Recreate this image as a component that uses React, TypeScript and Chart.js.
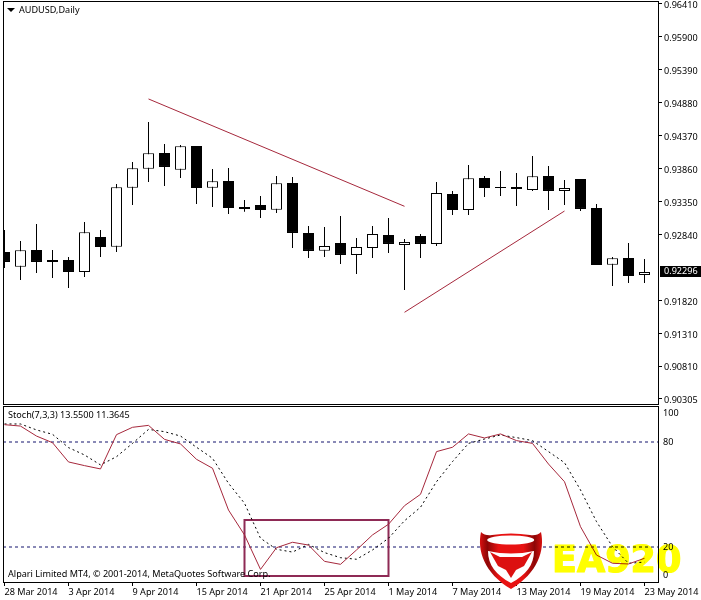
import React, { useEffect, useRef } from "react";
import { Chart, registerables } from "chart.js";

Chart.register(...registerables);

// ---- data ----
const opens = [0.92577,0.9235,0.92608,0.92453,0.92453,0.92268,0.92809,0.92659,0.93571,0.93864,0.94107,0.93849,0.94215,0.93571,0.93674,0.93272,0.93303,0.93231,0.93643,0.92871,0.92597,0.92716,0.92531,0.92639,0.9284,0.92685,0.92824,0.92701,0.93473,0.93226,0.93721,0.93582,0.93582,0.93535,0.93752,0.9352,0.93705,0.93257,0.92381,0.92484,0.92222];
const closes = [0.92423,0.92603,0.92423,0.92423,0.92268,0.92881,0.92654,0.93577,0.93871,0.94102,0.93891,0.94211,0.93566,0.9367,0.93257,0.93242,0.93226,0.93639,0.92871,0.92593,0.9267,0.92531,0.92654,0.92855,0.92701,0.92732,0.92701,0.93489,0.93226,0.93716,0.93566,0.93566,0.93551,0.93747,0.9352,0.93566,0.93242,0.92376,0.9248,0.92206,0.92268];
const highs = [0.92917,0.92747,0.9301,0.92608,0.925,0.93041,0.92917,0.93628,0.93968,0.94586,0.94246,0.94231,0.94215,0.9386,0.93875,0.93381,0.93442,0.93752,0.93736,0.92979,0.92963,0.93133,0.92793,0.92979,0.93102,0.92778,0.92855,0.93659,0.9352,0.93922,0.93752,0.93829,0.93798,0.94061,0.93906,0.9369,0.93705,0.93319,0.925,0.92716,0.92469];
const lows = [0.9233,0.92145,0.92253,0.92175,0.92021,0.92191,0.925,0.92577,0.93303,0.93659,0.93597,0.93721,0.93319,0.93272,0.93164,0.932,0.93102,0.9318,0.92639,0.92484,0.925,0.92392,0.92237,0.92484,0.92562,0.9199,0.92484,0.9267,0.93149,0.93149,0.93427,0.93442,0.93288,0.9352,0.93226,0.93303,0.93211,0.92376,0.92052,0.92098,0.92098];
const stochK = [89.9,89.1,83.4,79.6,68.6,66.5,64.6,84.2,88.4,89.5,81.5,78.9,70.1,65,41.1,26.9,7.2,19.6,22.7,21.1,11.8,10.1,18.3,26.9,33,43.6,50.1,74.5,77,84.6,82.3,84.6,80.8,79.2,67.4,57.3,31.6,15.4,10.7,10.3,13.55];
const stochD = [90.3,90.3,86.9,84.4,76.8,72.6,66.9,71.6,79.2,87.2,85.9,83.4,77,70.7,56.4,45,25,18.7,17.1,21.5,16.8,13.9,13,18.3,25,35,42.7,57.3,68.8,79.2,81.7,84,82.5,80.8,74.5,68.2,52.6,34.5,20.2,10.7,11.36];
const dateLabels = ["28 Mar 2014","3 Apr 2014","9 Apr 2014","15 Apr 2014","21 Apr 2014","25 Apr 2014","1 May 2014","7 May 2014","13 May 2014","19 May 2014","23 May 2014"];
const priceTicks = [0.9641,0.959,0.9539,0.9488,0.9437,0.9386,0.9335,0.9284,0.9182,0.9131,0.9081,0.90305];
const stochTicks = [96.6,80,20,3.5];
const stochTickLabels = ["100","80","20","0"];
const stochLevels = [80,20];
const trendDown = [{ x: 9, y: 0.94942 }, { x: 25, y: 0.93283 }];
const trendUp = [{ x: 25, y: 0.91645 }, { x: 35, y: 0.9321 }];
const boxIdx = [15, 24];
const boxVal = [35.4, 3.4];
const lastPrice = 0.92296;

const FONT = '"Noto Sans", sans-serif';
const FS = 9.1;
const RED = "#a6283c";
const xMin = -0.09375;
const xMax = 40.90625;

const whiteBg = {
  id: "whiteBg",
  beforeDraw(c: any) {
    const g = c.ctx;
    g.save();
    g.fillStyle = "#fff";
    g.fillRect(0, 0, c.width, c.height);
    g.restore();
  },
};

const frame = {
  id: "frame",
  afterDatasetsDraw(c: any) {
    const a = c.chartArea;
    const g = c.ctx;
    g.save();
    g.strokeStyle = "#000";
    g.lineWidth = 1;
    g.strokeRect(a.left + 0.5, a.top + 0.5, a.right - a.left - 1, a.bottom - a.top - 1);
    g.restore();
  },
};

const priceOverlay = {
  id: "priceOverlay",
  afterDraw(c: any) {
    const g = c.ctx;
    g.save();
    g.fillStyle = "#000";
    g.beginPath();
    g.moveTo(7, 8);
    g.lineTo(15, 8);
    g.lineTo(11, 12);
    g.closePath();
    g.fill();
    g.font = `${FS}px ${FONT}`;
    g.textBaseline = "middle";
    g.fillText("AUDUSD,Daily", 19, 10);
    const y = Math.round(c.scales.y.getPixelForValue(lastPrice)) + 1;
    g.fillRect(660, y - 5, 41, 11);
    g.fillStyle = "#fff";
    g.fillText(lastPrice.toFixed(5), 664, y + 0.5);
    g.restore();
  },
};

const stochOverlay = {
  id: "stochOverlay",
  afterDraw(c: any) {
    const g = c.ctx;
    g.save();
    g.fillStyle = "#000";
    g.font = `${FS}px ${FONT}`;
    g.textBaseline = "middle";
    g.fillText(`Stoch(7,3,3) ${stochK[40].toFixed(4)} 11.3645`, 8, 9.5);
    g.fillText("Alpari Limited MT4, © 2001-2014, MetaQuotes Software Corp.", 8, 168.5);
    g.translate(0, -406);
    // logo
    const grad = g.createLinearGradient(480, 0, 542, 0);
    grad.addColorStop(0, "#d81010");
    grad.addColorStop(0.12, "#8c0606");
    grad.addColorStop(0.3, "#e81212");
    grad.addColorStop(0.7, "#e81212");
    grad.addColorStop(0.88, "#8c0606");
    grad.addColorStop(1, "#d81010");
    g.fillStyle = grad;
    g.beginPath();
    g.moveTo(481, 532);
    g.bezierCurveTo(477, 550, 484, 573, 511, 589);
    g.bezierCurveTo(538, 573, 545, 550, 541, 532);
    g.quadraticCurveTo(537, 536, 530, 535);
    g.quadraticCurveTo(511, 532, 492, 535);
    g.quadraticCurveTo(485, 536, 481, 532);
    g.closePath();
    g.fill();
    g.fillStyle = "#fff";
    g.beginPath();
    g.ellipse(510.7, 540, 23.5, 4.5, 0, 0, Math.PI * 2);
    g.fill();
    g.beginPath();
    g.moveTo(488, 551);
    g.quadraticCurveTo(511, 556, 534, 551);
    g.bezierCurveTo(534, 565, 526, 575, 511, 583);
    g.bezierCurveTo(496, 575, 488, 565, 488, 551);
    g.closePath();
    g.fill();
    g.fillStyle = "#dc1010";
    g.beginPath();
    g.moveTo(490, 552);
    g.lineTo(500, 557);
    g.lineTo(522, 557);
    g.lineTo(532, 552);
    g.lineTo(524, 566);
    g.lineTo(516, 570);
    g.lineTo(511, 578);
    g.lineTo(506, 570);
    g.lineTo(498, 566);
    g.closePath();
    g.fill();
    // watermark word
    g.globalCompositeOperation = "multiply";
    g.fillStyle = "#ffff00";
    g.strokeStyle = "#ffff00";
    g.lineWidth = 1.2;
    g.lineJoin = "round";
    g.font = 'bold 36.5px "DejaVu Sans"';
    g.textBaseline = "alphabetic";
    g.strokeText("EA920", 552, 572);
    g.fillText("EA920", 552, 572);
    g.restore();
  },
};

const base = {
  responsive: false,
  animation: false as const,
  events: [] as string[],
  plugins: { legend: { display: false }, tooltip: { enabled: false }, title: { display: false } },
};

const yAxisCommon = {
  position: "right" as const,
  bounds: "data" as const,
  grid: { drawOnChartArea: false, tickLength: 3, color: "#000", tickWidth: 1 },
  border: { display: false },
  afterFit(s: any) {
    s.width = 42;
    s.paddingTop = 0;
    s.paddingBottom = 0;
  },
};

export default function App() {
  const topRef = useRef<HTMLCanvasElement>(null);
  const botRef = useRef<HTMLCanvasElement>(null);

  useEffect(() => {
    const idx = opens.map((_, i) => i);
    const top = new Chart(topRef.current!, {
      type: "bar",
      data: {
        datasets: [
          {
            type: "bar",
            data: idx.map((i) => ({ x: i, y: [lows[i], highs[i]] })),
            backgroundColor: "#000",
            barThickness: 1,
            grouped: false,
            inflateAmount: 0,
            order: 3,
          },
          {
            type: "bar",
            data: idx.map((i) => ({ x: i, y: [opens[i], closes[i]] })),
            backgroundColor: idx.map((i) => (closes[i] >= opens[i] ? "#fff" : "#000")),
            borderColor: "#000",
            borderWidth: 1,
            borderSkipped: false,
            barThickness: 11,
            grouped: false,
            inflateAmount: 0,
            order: 2,
          },
          { type: "line", data: trendDown, borderColor: RED, borderWidth: 1, pointRadius: 0, order: 1 },
          { type: "line", data: trendUp, borderColor: RED, borderWidth: 1, pointRadius: 0, order: 1 },
        ],
      } as any,
      options: {
        ...base,
        layout: { padding: { left: 3, top: 1, right: 0, bottom: 195 } },
        scales: {
          x: { type: "linear", min: xMin, max: xMax, offset: false, display: false, grid: { offset: false } },
          y: {
            ...yAxisCommon,
            min: 0.90212,
            max: 0.96456,
            afterBuildTicks(s: any) {
              s.ticks = priceTicks.map((value) => ({ value }));
            },
            ticks: {
              padding: 2,
              labelOffset: 1,
              autoSkip: false,
              color: "#000",
              font: { family: FONT, size: FS },
              callback: (v: any) => Number(v).toFixed(5),
            },
          },
        },
      } as any,
      plugins: [whiteBg, frame, priceOverlay],
    });

    const bot = new Chart(botRef.current!, {
      type: "line",
      data: {
        datasets: [
          ...stochLevels.map((lv) => ({
            data: [{ x: xMin, y: lv }, { x: xMax, y: lv }],
            borderColor: "#14146e",
            borderWidth: 1,
            borderDash: [3, 3],
            pointRadius: 0,
            order: 3,
          })),
          {
            data: [
              { x: boxIdx[0], y: boxVal[0] },
              { x: boxIdx[1], y: boxVal[0] },
              { x: boxIdx[1], y: boxVal[1] },
              { x: boxIdx[0], y: boxVal[1] },
              { x: boxIdx[0], y: boxVal[0] },
            ],
            borderColor: "#8e2a55",
            borderWidth: 2,
            borderJoinStyle: "miter",
            borderCapStyle: "square",
            pointRadius: 0,
            order: 2,
          },
          {
            data: idx.map((i) => ({ x: i, y: stochD[i] })),
            borderColor: "#000",
            borderWidth: 1,
            borderDash: [2, 3],
            pointRadius: 0,
            order: 1,
          },
          {
            data: idx.map((i) => ({ x: i, y: stochK[i] })),
            borderColor: RED,
            borderWidth: 1,
            pointRadius: 0,
            order: 0,
          },
        ],
      } as any,
      options: {
        ...base,
        layout: { padding: { left: 3, top: 0, right: 0, bottom: 0 } },
        scales: {
          x: {
            type: "linear",
            min: xMin,
            max: xMax,
            offset: false,
            bounds: "data",
            grid: { drawOnChartArea: false, tickLength: 3, color: "#000", offset: false },
            border: { display: false },
            afterBuildTicks(s: any) {
              s.ticks = dateLabels.map((_, i) => ({ value: i * 4 }));
            },
            afterFit(s: any) {
              s.height = 17;
              s.paddingLeft = 0;
              s.paddingRight = 0;
            },
            ticks: {
              align: "start",
              autoSkip: false,
              maxRotation: 0,
              minRotation: 0,
              padding: 1,
              color: "#000",
              font: { family: FONT, size: FS },
              callback: (v: any) => dateLabels[Math.round(Number(v) / 4)],
            },
          },
          y: {
            ...yAxisCommon,
            min: -0.57,
            max: 100.57,
            grid: { drawOnChartArea: false, drawTicks: false },
            afterBuildTicks(s: any) {
              s.ticks = stochTicks.map((value) => ({ value }));
            },
            ticks: {
              padding: 4,
              autoSkip: false,
              color: "#000",
              font: { family: FONT, size: FS },
              callback: (_: any, i: number) => stochTickLabels[i],
            },
          },
        },
      } as any,
      plugins: [whiteBg, frame, stochOverlay],
    });

    return () => {
      top.destroy();
      bot.destroy();
    };
  }, []);

  return (
    <div style={{ position: "absolute", left: 0, top: 0, width: 701, height: 600, background: "#fff" }}>
      <canvas ref={topRef} width={701} height={600} style={{ position: "absolute", left: 0, top: 0, width: 701, height: 600 }} />
      <canvas ref={botRef} width={701} height={194} style={{ position: "absolute", left: 0, top: 406, width: 701, height: 194 }} />
    </div>
  );
}
